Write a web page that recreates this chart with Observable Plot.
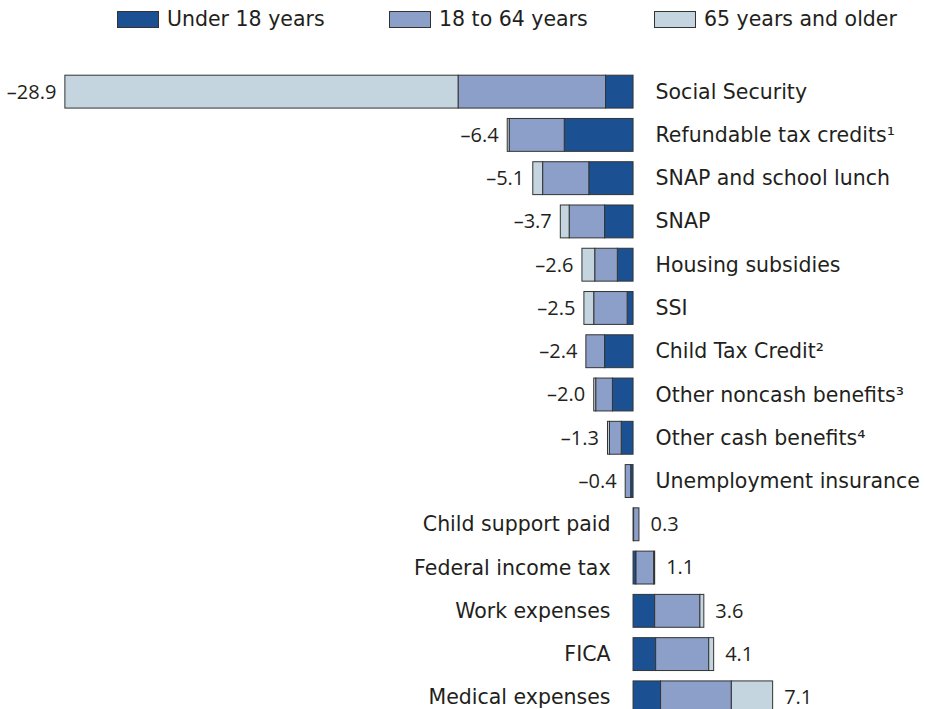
<!DOCTYPE html>
<html><head><meta charset="utf-8">
<script src="https://cdn.jsdelivr.net/npm/d3@7"></script>
<script src="https://cdn.jsdelivr.net/npm/@observablehq/plot@0.6"></script>
<style>
body{margin:0;background:#fff;font-family:"DejaVu Sans",sans-serif;color:#231f20}
#legend{height:46px;display:flex;align-items:center;padding-left:117px;font-size:20.5px;box-sizing:border-box;padding-bottom:8px}
.item{display:flex;align-items:center}
.sw{width:42px;height:17px;border:1px solid #333;margin-right:8px;box-sizing:border-box}
#chart svg{display:block}
</style></head><body>
<div id="legend"></div><div id="chart"></div>
<script>
const categories = ["Social Security","Refundable tax credits¹","SNAP and school lunch","SNAP","Housing subsidies","SSI","Child Tax Credit²","Other noncash benefits³","Other cash benefits⁴","Unemployment insurance","Child support paid","Federal income tax","Work expenses","FICA","Medical expenses"];
const under18   = [-1.4, -3.5, -2.25, -1.45, -0.8, -0.3, -1.45, -1.05, -0.6, -0.12, 0.03, 0.15, 1.1, 1.15, 1.4];
const age18to64 = [-7.5, -2.8, -2.35, -1.8, -1.15, -1.7, -0.95, -0.85, -0.6, -0.28, 0.27, 0.9, 2.3, 2.7, 3.6];
const age65plus = [-20.0, -0.1, -0.5, -0.45, -0.65, -0.5, 0, -0.1, -0.1, 0, 0, 0.05, 0.2, 0.25, 2.1];
const totals    = [-28.9, -6.4, -5.1, -3.7, -2.6, -2.5, -2.4, -2.0, -1.3, -0.4, 0.3, 1.1, 3.6, 4.1, 7.1];
const groups = ["Under 18 years", "18 to 64 years", "65 years and older"];
const colors = ["#1b5192", "#8b9fc8", "#c4d5df"];

const legend = document.getElementById("legend");
const itemWidths = [272, 265, null];
groups.forEach((g, i) => {
  const it = document.createElement("div");
  it.className = "item";
  if (itemWidths[i]) it.style.width = itemWidths[i] + "px";
  const sw = document.createElement("div");
  sw.className = "sw"; sw.style.background = colors[i];
  const t = document.createElement("span"); t.textContent = g;
  it.append(sw, t); legend.append(it);
});

const series = [under18, age18to64, age65plus];
const rows = [];
categories.forEach((c, i) => groups.forEach((g, j) => rows.push({category: c, group: g, value: series[j][i]})));
const tot = categories.map((c, i) => ({category: c, total: totals[i], label: (totals[i] < 0 ? "–" : "") + Math.abs(totals[i]).toFixed(1)}));
const neg = tot.filter(d => d.total < 0), pos = tot.filter(d => d.total >= 0);

const numFont = "Open Sans, sans-serif";
const chart = Plot.plot({
  width: 925, height: 673,
  marginLeft: 0, marginRight: 0, marginTop: 24, marginBottom: 0,
  style: {fontFamily: "DejaVu Sans, sans-serif", color: "#231f20", background: "white"},
  x: {domain: [-32.2, 14.85], axis: null},
  y: {domain: categories, axis: null, paddingInner: 0.24, paddingOuter: 0.12, round: false},
  color: {domain: groups, range: colors},
  marks: [
    Plot.barX(rows, {x: "value", y: "category", fill: "group", stroke: "#333", strokeWidth: 1}),
    Plot.text(neg, {x: "total", y: "category", text: "label", textAnchor: "end", dx: -9, fontSize: 20, fontFamily: numFont, fill: "#231f20"}),
    Plot.text(neg, {x: 0, y: "category", text: "category", textAnchor: "start", dx: 22, fontSize: 20.5, fill: "#231f20"}),
    Plot.text(pos, {x: "total", y: "category", text: "label", textAnchor: "start", dx: 11, fontSize: 20, fontFamily: numFont, fill: "#231f20"}),
    Plot.text(pos, {x: 0, y: "category", text: "category", textAnchor: "end", dx: -23, fontSize: 20.5, fill: "#231f20"})
  ]
});
document.getElementById("chart").append(chart);
</script>
</body></html>
